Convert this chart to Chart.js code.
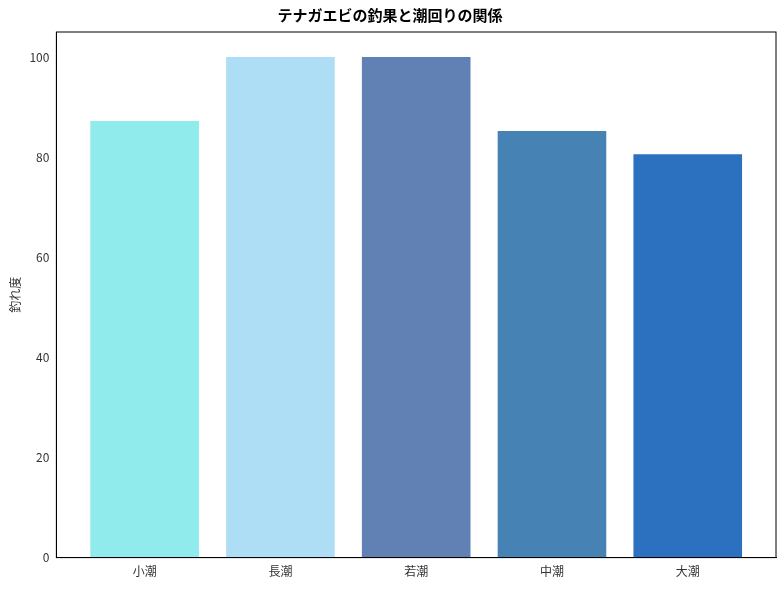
<!DOCTYPE html>
<html>
<head>
<meta charset="utf-8">
<script src="https://cdn.jsdelivr.net/npm/chart.js"></script>
<style>
  html, body { margin: 0; padding: 0; background: #fff; }
  #wrap { width: 784px; height: 590px; }
</style>
</head>
<body>
<div id="wrap"><canvas id="c"></canvas></div>
<script>
const categories = ['小潮', '長潮', '若潮', '中潮', '大潮'];
const catchScores = [87.2, 100, 100, 85.2, 80.6];
const barColors = ['#90ECEC', '#AEDEF6', '#6180B4', '#4682B4', '#2C71C0'];
const yTicks = [0, 20, 40, 60, 80, 100];

// draws the closed frame around the plot area
const frame = {
  id: 'frame',
  afterDraw(chart) {
    const a = chart.chartArea, ctx = chart.ctx;
    ctx.save();
    ctx.strokeStyle = '#000';
    ctx.lineWidth = 1;
    ctx.strokeRect(a.left, a.top, a.right - a.left, a.bottom - a.top);
    ctx.restore();
  }
};

Chart.defaults.font.family = '"Noto Sans CJK JP", "DejaVu Sans", sans-serif';
Chart.defaults.color = '#333';

new Chart(document.getElementById('c'), {
  type: 'bar',
  data: {
    datasets: [{
      data: catchScores.map((v, i) => ({ x: i, y: v })),
      backgroundColor: barColors,
      barPercentage: 0.8,
      categoryPercentage: 1
    }]
  },
  options: {
    responsive: true,
    maintainAspectRatio: false,
    animation: false,
    layout: { padding: { left: 4, right: 8, top: 0, bottom: 8 } },
    plugins: {
      legend: { display: false },
      title: {
        display: true,
        text: 'テナガエビの釣果と潮回りの関係',
        color: '#000',
        font: { size: 15, weight: 'bold' },
        padding: { top: 6, bottom: 8 }
      },
      tooltip: { enabled: false }
    },
    scales: {
      x: {
        type: 'linear',
        min: -0.65,
        max: 4.65,
        offset: false,
        grid: { display: false, tickLength: 4 },
        border: { color: '#000' },
        afterBuildTicks: axis => { axis.ticks = categories.map((_, i) => ({ value: i })); },
        ticks: { font: { size: 12 }, color: '#333', callback: v => categories[v] }
      },
      y: {
        min: 0,
        max: 105,
        grid: { display: false, tickLength: 4 },
        border: { color: '#000' },
        afterBuildTicks: axis => { axis.ticks = yTicks.map(v => ({ value: v })); },
        ticks: { font: { size: 12 }, color: '#333' },
        title: { display: true, text: '釣れ度', font: { size: 12 }, color: '#333' }
      }
    }
  },
  plugins: [frame]
});
</script>
</body>
</html>
